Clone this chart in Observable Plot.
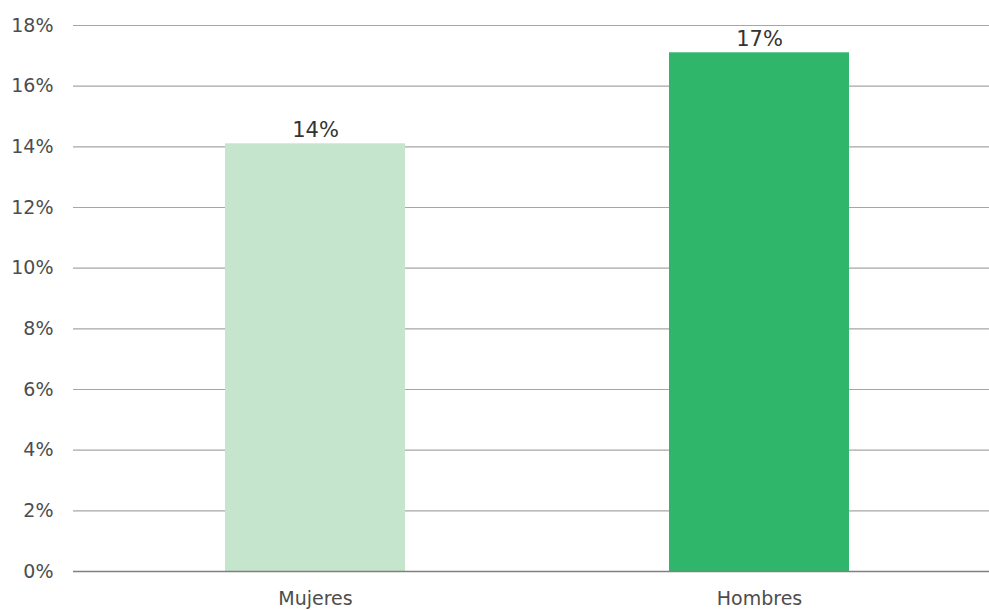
<!DOCTYPE html>
<html>
<head>
<meta charset="utf-8">
<script src="https://cdn.jsdelivr.net/npm/d3@7"></script>
<script src="https://cdn.jsdelivr.net/npm/@observablehq/plot@0.6"></script>
<style>
  html, body { margin: 0; padding: 0; background: #fff; }
  #chart svg { display: block; }
</style>
</head>
<body>
<div id="chart"></div>
<script>
const categories = ["Mujeres", "Hombres"];
const values = [14.1, 17.1];
const labels = ["14%", "17%"];
const colors = ["#c6e5cd", "#2fb66b"];
const yTicks = [0, 2, 4, 6, 8, 10, 12, 14, 16, 18];

const data = categories.map((c, i) => ({cat: c, value: values[i], label: labels[i], color: colors[i]}));

const chart = Plot.plot({
  width: 989,
  height: 610,
  marginLeft: 73,
  marginRight: 0,
  marginTop: 25,
  marginBottom: 39,
  style: {fontFamily: "DejaVu Sans, Verdana, sans-serif", background: "#fff"},
  x: {domain: categories, range: [93, 981], paddingInner: 0.595, paddingOuter: 0.2975, label: null},
  y: {domain: [0, 18], label: null},
  marks: [
    Plot.ruleY(yTicks.filter(d => d > 0), {stroke: "#a6a6a6", strokeWidth: 1.2}),
    Plot.barY(data, {x: "cat", y: "value", fill: "color"}),
    Plot.ruleY([0], {stroke: "#7f7f7f", strokeWidth: 1.6}),
    Plot.text(data, {x: "cat", y: "value", text: "label", lineAnchor: "bottom", dy: -7, fontSize: 21, fill: "#333"}),
    Plot.axisY({ticks: yTicks, tickSize: 0, tickPadding: 20, tickFormat: d => d + "%", fontSize: 19, color: "#4d4d4d", label: null}),
    Plot.axisX({tickSize: 0, tickPadding: 20, fontSize: 19, color: "#4d4d4d", label: null})
  ]
});
document.getElementById("chart").appendChild(chart);
</script>
</body>
</html>
